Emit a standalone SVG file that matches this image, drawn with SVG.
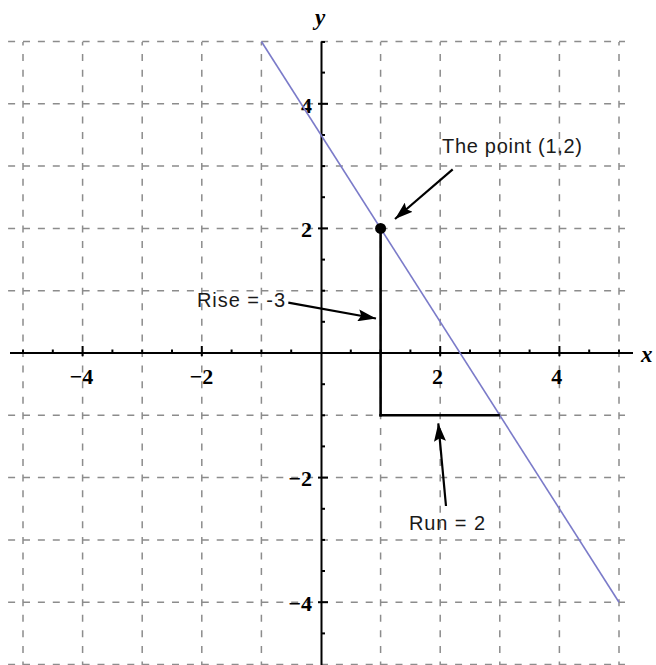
<svg xmlns="http://www.w3.org/2000/svg" width="656" height="665" viewBox="0 0 656 665">
<defs>
<style>
.gh{stroke:#8c8c8c;stroke-width:1.5;stroke-dasharray:7 7.9;fill:none}
.gv{stroke:#8c8c8c;stroke-width:1.5;stroke-dasharray:7 8.575;stroke-dashoffset:3.5;fill:none}
.ax{stroke:#000;stroke-width:2;fill:none}
.tk{stroke:#000;stroke-width:2}
.num{font-family:"Liberation Serif","Times New Roman",serif;font-weight:bold;font-size:22px;fill:#000}
.axl{font-family:"Liberation Serif","Times New Roman",serif;font-weight:bold;font-style:italic;font-size:23px;fill:#000}
.lbl{font-family:"Liberation Sans",Arial,sans-serif;font-size:20px;fill:#1a1a1a}
.arr{stroke:#000;stroke-width:2.2;fill:none;marker-end:url(#ah)}
</style>
<marker id="ah" markerUnits="userSpaceOnUse" markerWidth="20" markerHeight="12" refX="18" refY="6" orient="auto">
<path d="M0,0 L18,6 L0,12 L3,6 z" fill="#000"/>
</marker>
</defs>
<rect width="656" height="665" fill="#fff"/>
<g id="grid">
<line class="gh" x1="8.1" y1="41.5" x2="625" y2="41.5"/>
<line class="gh" x1="8.1" y1="103.8" x2="625" y2="103.8"/>
<line class="gh" x1="8.1" y1="166.1" x2="625" y2="166.1"/>
<line class="gh" x1="8.1" y1="228.4" x2="625" y2="228.4"/>
<line class="gh" x1="8.1" y1="290.7" x2="625" y2="290.7"/>
<line class="gh" x1="8.1" y1="415.3" x2="625" y2="415.3"/>
<line class="gh" x1="8.1" y1="477.6" x2="625" y2="477.6"/>
<line class="gh" x1="8.1" y1="539.9" x2="625" y2="539.9"/>
<line class="gh" x1="8.1" y1="602.2" x2="625" y2="602.2"/>
<line class="gh" x1="8.1" y1="664.5" x2="625" y2="664.5"/>
<line class="gv" x1="23" y1="42" x2="23" y2="665"/>
<line class="gv" x1="82.6" y1="42" x2="82.6" y2="665"/>
<line class="gv" x1="142.2" y1="42" x2="142.2" y2="665"/>
<line class="gv" x1="201.8" y1="42" x2="201.8" y2="665"/>
<line class="gv" x1="261.4" y1="42" x2="261.4" y2="665"/>
<line class="gv" x1="380.6" y1="42" x2="380.6" y2="665"/>
<line class="gv" x1="440.2" y1="42" x2="440.2" y2="665"/>
<line class="gv" x1="499.8" y1="42" x2="499.8" y2="665"/>
<line class="gv" x1="559.4" y1="42" x2="559.4" y2="665"/>
<line class="gv" x1="619" y1="42" x2="619" y2="665"/>
</g>
<g id="axes">
<line class="ax" x1="10" y1="353" x2="633" y2="353"/>
<line class="ax" x1="321.5" y1="41.5" x2="321.5" y2="665"/>
<g id="xticks">
<line class="tk" x1="23" y1="349.5" x2="23" y2="353"/>
<line class="tk" x1="52.8" y1="349.5" x2="52.8" y2="353"/>
<line class="tk" x1="82.6" y1="346" x2="82.6" y2="356"/>
<line class="tk" x1="112.4" y1="349.5" x2="112.4" y2="353"/>
<line class="tk" x1="142.2" y1="349.5" x2="142.2" y2="353"/>
<line class="tk" x1="172" y1="349.5" x2="172" y2="353"/>
<line class="tk" x1="201.8" y1="346" x2="201.8" y2="356"/>
<line class="tk" x1="231.6" y1="349.5" x2="231.6" y2="353"/>
<line class="tk" x1="261.4" y1="349.5" x2="261.4" y2="353"/>
<line class="tk" x1="291.2" y1="349.5" x2="291.2" y2="353"/>
<line class="tk" x1="350.8" y1="349.5" x2="350.8" y2="353"/>
<line class="tk" x1="380.6" y1="349.5" x2="380.6" y2="353"/>
<line class="tk" x1="410.4" y1="349.5" x2="410.4" y2="353"/>
<line class="tk" x1="440.2" y1="346" x2="440.2" y2="356"/>
<line class="tk" x1="470" y1="349.5" x2="470" y2="353"/>
<line class="tk" x1="499.8" y1="349.5" x2="499.8" y2="353"/>
<line class="tk" x1="529.6" y1="349.5" x2="529.6" y2="353"/>
<line class="tk" x1="559.4" y1="346" x2="559.4" y2="356"/>
<line class="tk" x1="589.2" y1="349.5" x2="589.2" y2="353"/>
<line class="tk" x1="619" y1="349.5" x2="619" y2="353"/>
</g>
<g id="yticks">
<line class="tk" x1="321.5" y1="42" x2="325" y2="42"/>
<line class="tk" x1="321.5" y1="72.6" x2="325" y2="72.6"/>
<line class="tk" x1="318" y1="103.8" x2="328" y2="103.8"/>
<line class="tk" x1="321.5" y1="135" x2="325" y2="135"/>
<line class="tk" x1="321.5" y1="166.1" x2="325" y2="166.1"/>
<line class="tk" x1="321.5" y1="197.2" x2="325" y2="197.2"/>
<line class="tk" x1="318" y1="228.4" x2="328" y2="228.4"/>
<line class="tk" x1="321.5" y1="259.6" x2="325" y2="259.6"/>
<line class="tk" x1="321.5" y1="290.7" x2="325" y2="290.7"/>
<line class="tk" x1="321.5" y1="321.8" x2="325" y2="321.8"/>
<line class="tk" x1="321.5" y1="384.2" x2="325" y2="384.2"/>
<line class="tk" x1="321.5" y1="415.3" x2="325" y2="415.3"/>
<line class="tk" x1="321.5" y1="446.4" x2="325" y2="446.4"/>
<line class="tk" x1="318" y1="477.6" x2="328" y2="477.6"/>
<line class="tk" x1="321.5" y1="508.8" x2="325" y2="508.8"/>
<line class="tk" x1="321.5" y1="539.9" x2="325" y2="539.9"/>
<line class="tk" x1="321.5" y1="571" x2="325" y2="571"/>
<line class="tk" x1="318" y1="602.2" x2="328" y2="602.2"/>
<line class="tk" x1="321.5" y1="633.4" x2="325" y2="633.4"/>
</g>
<g id="ticklabels">
<text class="num" x="81.5" y="384" text-anchor="middle">−4</text>
<text class="num" x="201.5" y="384" text-anchor="middle">−2</text>
<text class="num" x="437.5" y="384" text-anchor="middle">2</text>
<text class="num" x="556.7" y="384" text-anchor="middle">4</text>
<text class="num" x="312" y="112.5" text-anchor="end">4</text>
<text class="num" x="312" y="237" text-anchor="end">2</text>
<text class="num" x="312" y="486.3" text-anchor="end">−2</text>
<text class="num" x="312" y="611" text-anchor="end">−4</text>
</g>
<text class="axl" x="641" y="362">x</text>
<text class="axl" x="320" y="25" text-anchor="middle">y</text>
</g>
<g id="line">
<line x1="261.4" y1="41.5" x2="619" y2="602.2" stroke="#7b7bc9" stroke-width="1.6"/>
</g>
<g id="triangle">
<line x1="380.6" y1="228.4" x2="380.6" y2="416.5" stroke="#000" stroke-width="2.6"/>
<line x1="379.3" y1="415.3" x2="499.8" y2="415.3" stroke="#000" stroke-width="2.6"/>
</g>
<g id="point">
<circle cx="380.6" cy="228.4" r="5.5" fill="#000"/>
</g>
<g id="connectors">
<line class="arr" x1="452.7" y1="169.3" x2="395" y2="219"/>
<line class="arr" x1="288.3" y1="302.7" x2="376" y2="318.5"/>
<line class="arr" x1="446" y1="506" x2="438.3" y2="423.3"/>
</g>
<g id="label-point">
<text class="lbl" x="442" y="153" textLength="140" lengthAdjust="spacing">The point (1,2)</text>
</g>
<g id="label-rise">
<text class="lbl" x="197" y="307" textLength="88" lengthAdjust="spacing">Rise = -3</text>
</g>
<g id="label-run">
<text class="lbl" x="409" y="530" textLength="76" lengthAdjust="spacing">Run = 2</text>
</g>
</svg>
